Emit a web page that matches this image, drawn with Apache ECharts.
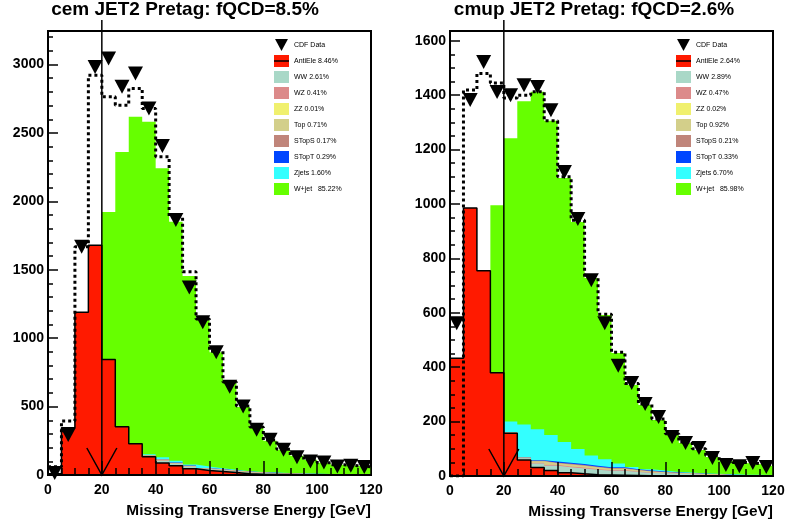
<!DOCTYPE html>
<html><head><meta charset="utf-8">
<script src="https://cdn.jsdelivr.net/npm/echarts@6/dist/echarts.min.js"></script>
<style>html,body{margin:0;padding:0;background:#fff}#c{width:788px;height:527px}</style>
</head><body><div id="c"></div>
<script>
const BIN = 5;
const FONT = "'Liberation Sans', Arial, Helvetica, sans-serif";
const cutValue = [20];

const leftTitle = 'cem JET2 Pretag: fQCD=8.5%';
const rightTitle = 'cmup JET2 Pretag: fQCD=2.6%';
const axisTitle = 'Missing Transverse Energy [GeV]';

const leftLabels = ['CDF Data','AntiEle 8.46%','WW 2.61%','WZ 0.41%','ZZ 0.01%','Top 0.71%','STopS 0.17%','STopT 0.29%','Zjets 1.60%','W+jet   85.22%'];
const rightLabels = ['CDF Data','AntiEle 2.64%','WW 2.89%','WZ 0.47%','ZZ 0.02%','Top 0.92%','STopS 0.21%','STopT 0.33%','Zjets 6.70%','W+jet   85.98%'];

// ---- left panel (cem), 5 GeV bins 0..120 ----
const leftData    = [14,293,1668,2982,3044,2837,2934,2679,2404,1863,1370,1117,898,645,500,330,257,184,130,99,91,62,67,58];
const leftExpect  = [60,395,1668,2922,2764,2703,2825,2679,2326,1888,1486,1140,905,680,505,350,255,188,143,113,90,75,68,60];
const leftAntiEle = [10,345,1190,1680,845,352,228,133,87,67,45,33,26,18,9,6,4,3,2,2,1,1,1,1];
const leftWW      = [0,0,0,0,0,0,0,6,18,15,15,10,10,9,10,9,7,6,5,4,4,3,2,2];
const leftWZ      = [0,0,0,0,0,0,0,1,3,2,2,2,2,2,2,1,1,1,1,1,1,1,1,1];
const leftZZ      = [0,0,0,0,0,0,0,0,0,0,0,0,0,0,0,0,0,0,0,0,0,0,0,0];
const leftTop     = [0,0,0,0,0,0,0,2,5,4,4,3,3,2,3,2,2,2,1,1,1,1,1,1];
const leftSTopS   = [0,0,0,0,0,0,0,0,1,1,1,1,1,1,1,1,1,0,0,0,0,0,0,0];
const leftSTopT   = [0,0,0,0,0,0,0,1,2,2,2,1,1,1,1,1,1,1,1,1,0,0,0,0];
const leftZjets   = [0,0,0,0,0,0,0,8,14,13,7,12,7,5,2,2,2,1,1,1,1,1,1,1];
const leftWjet    = [0,0,0,0,1077,2008,2390,2430,2111,1747,1379,1070,848,634,469,323,232,170,129,101,81,67,61,54];

// ---- right panel (cmup) ----
const rightData    = [562,1382,1522,1412,1400,1437,1430,1345,1118,945,720,562,405,342,265,217,143,121,103,66,40,36,48,33];
const rightExpect  = [0,1419,1480,1445,1390,1400,1413,1306,1100,940,730,595,455,340,265,210,155,125,100,75,58,50,46,40];
const rightAntiEle = [433,985,755,380,157,59,31,20,12,8,5,4,3,2,1,1,1,1,0,0,0,0,0,0];
const rightWW      = [0,0,0,0,2,6,15,18,20,20,18,15,16,13,10,9,7,6,4,4,3,2,2,2];
const rightWZ      = [0,0,0,0,0,1,3,3,3,3,3,3,3,2,2,1,1,1,1,1,0,0,0,0];
const rightZZ      = [0,0,0,0,0,0,0,0,0,0,0,0,0,0,0,0,0,0,0,0,0,0,0,0];
const rightTop     = [0,0,0,0,1,2,5,6,7,7,6,5,5,4,4,3,2,2,2,1,1,1,1,1];
const rightSTopS   = [0,0,0,0,0,0,2,2,3,2,2,2,2,2,1,1,1,0,0,0,0,0,0,0];
const rightSTopT   = [0,0,0,0,0,1,2,4,4,4,4,3,3,2,2,2,1,1,1,1,1,1,1,0];
const rightZjets   = [0,0,0,0,40,120,114,98,76,55,37,30,14,8,5,3,2,2,1,1,1,1,1,1];
const rightWjet    = [0,0,0,615,1042,1189,1241,1155,971,835,653,530,406,302,236,186,136,108,87,62,49,43,39,33];

const compColors = ['#ff1a00','#a9d8c7','#dc8a8a','#f0f06e','#d3cf8a','#c0857a','#0046ff','#33ffff','#66ff00'];
const TRI = 'path://M0,0 L14,0 L7,13 Z';

function steps(v){const p=[];v.forEach((y,k)=>{p.push([k*BIN,y],[(k+1)*BIN,y]);});return p;}
function cumulative(comps){const out=[];let run=comps[0].map(()=>0);comps.forEach(c=>{run=run.map((r,k)=>r+c[k]);out.push(run.slice());});return out;}

function panelSeries(gi, comps, labels, dataVals, expectVals){
  const cum = cumulative(comps);
  const s = [];
  for (let j = comps.length-1; j >= 0; j--) {
    s.push({type:'line', name:labels[j+1], xAxisIndex:gi, yAxisIndex:gi, data:steps(cum[j]),
      symbol:'none', silent:true, color:compColors[j],
      lineStyle: j===0 ? {color:'#000', width:1.5} : {width:0, color:compColors[j]},
      areaStyle:{color:compColors[j], opacity:1}, z:2});
  }
  s.push({type:'line', name:'expect'+gi, xAxisIndex:gi, yAxisIndex:gi, data:steps(expectVals),
    symbol:'none', silent:true, lineStyle:{color:'#000', width:3, type:[3,3]}, z:3});
  s.push({type:'scatter', name:labels[0], xAxisIndex:gi, yAxisIndex:gi,
    data:dataVals.map((v,k)=>[(k+0.5)*BIN, v]), symbol:TRI, symbolSize:[15,14],
    itemStyle:{color:'#000', opacity:1}, z:4, silent:true});
  s.push({type:'custom', xAxisIndex:gi, yAxisIndex:gi, data:cutValue.map(v=>[v]), clip:false, z:5, silent:true,
    renderItem(params, api){
      const b = api.coord([api.value(0), 0]);
      const topY = params.coordSys.y - 11;
      return {type:'group', children:[
        {type:'line', shape:{x1:b[0], y1:topY, x2:b[0], y2:b[1]}, style:{stroke:'#000', lineWidth:1.5}},
        {type:'polyline', shape:{points:[[b[0]-15,b[1]-27],[b[0],b[1]],[b[0]+15,b[1]-27]]}, style:{stroke:'#000', lineWidth:1.5, fill:null}}
      ]};
    }});
  return s;
}

function xAxisCfg(gi){
  return {gridIndex:gi, type:'value', min:0, max:120, interval:20, z:10,
    axisLine:{show:true, lineStyle:{color:'#000', width:2}},
    axisTick:{show:true, inside:true, length:14, lineStyle:{color:'#000', width:1.5}},
    minorTick:{show:true, splitNumber:4, length:7, lineStyle:{color:'#000', width:1.5}},
    splitLine:{show:false}, minorSplitLine:{show:false},
    axisLabel:{color:'#000', fontWeight:'bold', fontSize:14, margin:8, fontFamily:FONT, formatter:v=>String(v)},
    name:axisTitle, nameLocation:'end', nameGap:0,
    nameTextStyle:{color:'#000', fontWeight:'bold', fontSize:15.4, fontFamily:FONT, align:'right', verticalAlign:'top', padding:[28,0,0,0]}};
}
function yAxisCfg(gi, max, interval, minorSplit){
  return {gridIndex:gi, type:'value', min:0, max:max, interval:interval, z:10,
    axisLine:{show:true, lineStyle:{color:'#000', width:2}},
    axisTick:{show:true, inside:true, length:10, lineStyle:{color:'#000', width:1.5}},
    minorTick:{show:true, splitNumber:minorSplit, length:5, lineStyle:{color:'#000', width:1.5}},
    splitLine:{show:false}, minorSplitLine:{show:false},
    axisLabel:{color:'#000', fontWeight:'bold', fontSize:14, margin:4, fontFamily:FONT, showMaxLabel:false, formatter:v=>String(v)}};
}
function legendCfg(left, labels){
  return {left:left, top:39, orient:'vertical', itemWidth:15, itemHeight:12, itemGap:4, padding:0,
    selectedMode:false, icon:'rect', textStyle:{fontSize:7, color:'#000', fontFamily:FONT},
    data: labels.map((n,i)=> i===0 ? {name:n, icon:TRI, itemStyle:{color:'#000'}} :
      {name:n, itemStyle:{color:compColors[i-1], borderWidth:0}})};
}

const chart = echarts.init(document.getElementById('c'), null, {renderer:'canvas'});
chart.setOption({
  animation:false,
  backgroundColor:'#fff',
  grid:[
    {left:48, top:31, width:323, height:444, show:true, borderColor:'#000', borderWidth:2, backgroundColor:'transparent'},
    {left:450, top:31, width:323, height:445, show:true, borderColor:'#000', borderWidth:2, backgroundColor:'transparent'}
  ],
  xAxis:[xAxisCfg(0), xAxisCfg(1)],
  yAxis:[yAxisCfg(0, 3245, 500, 5), yAxisCfg(1, 1636, 200, 4)],
  legend:[legendCfg(274, leftLabels), legendCfg(676, rightLabels)],
  graphic:[
    {type:'text', x:185, y:10, style:{text:leftTitle, textAlign:'center', textVerticalAlign:'middle', font:"bold 19px "+FONT, fill:'#000'}},
    {type:'text', x:594, y:10, style:{text:rightTitle, textAlign:'center', textVerticalAlign:'middle', font:"bold 19px "+FONT, fill:'#000'}},
    {type:'line', z:100, shape:{x1:274, y1:61, x2:289, y2:61}, style:{stroke:'#000', lineWidth:1.5}},
    {type:'line', z:100, shape:{x1:676, y1:61, x2:691, y2:61}, style:{stroke:'#000', lineWidth:1.5}}
  ],
  series:[
    ...panelSeries(0, [leftAntiEle,leftWW,leftWZ,leftZZ,leftTop,leftSTopS,leftSTopT,leftZjets,leftWjet], leftLabels, leftData, leftExpect),
    ...panelSeries(1, [rightAntiEle,rightWW,rightWZ,rightZZ,rightTop,rightSTopS,rightSTopT,rightZjets,rightWjet], rightLabels, rightData, rightExpect)
  ]
});
</script></body></html>
